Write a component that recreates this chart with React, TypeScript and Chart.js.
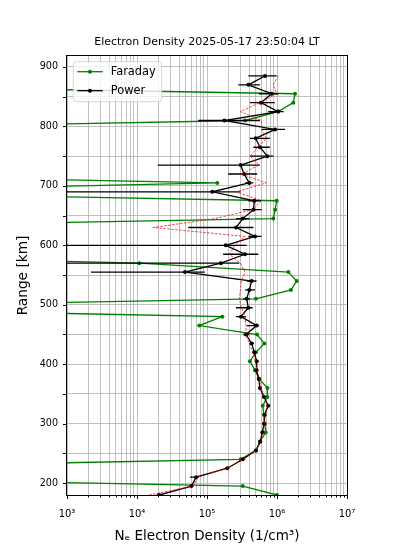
import React, { useEffect, useRef } from 'react';
import { Chart, registerables } from 'chart.js';

Chart.register(...registerables);

const titleText = 'Electron Density 2025-05-17 23:50:04 LT';
const xAxisTitle = 'Nₑ Electron Density (1/cm³)';
const yAxisTitle = 'Range [km]';

const rangeKm = [
  180, 195, 210, 225, 240, 255, 270, 285, 300, 315,
  330, 345, 360, 375, 390, 405, 420, 435, 450, 465,
  480, 495, 510, 525, 540, 555, 570, 585, 600, 615,
  630, 645, 660, 675, 690, 705, 720, 735, 750, 765,
  780, 795, 810, 825, 840, 855, 870, 885,
];

const faradayDensity = [
  1.0e6, 3.24e5, 0.1, 0.1, 3.03e5, 5.0e5, 5.7e5, 6.9e5, 6.7e5, 6.5e5,
  6.25e5, 7.27e5, 7.3e5, 5.6e5, 4.85e5, 4.1e5, 5.0e5, 6.6e5, 5.18e5, 7.76e4,
  1.65e5, 0.1, 5.0e5, 1.58e6, 1.91e6, 1.45e6, 1.08e4, 0.1, 0.1, 0.1,
  0.1, 8.85e5, 9.4e5, 9.9e5, 0.1, 1.4e5, 0.1, 0.1, 0.1, 0.1,
  0.1, 0.1, 3.49e5, 1.04e6, 1.71e6, 1.81e6, 0.1, 0.1,
];

const powerDensity = [
  2.08e4, 6.0e4, 7.0e4, 1.95e5, 3.24e5, 5.0e5, 5.77e5, 6.17e5, 6.52e5, 6.67e5,
  7.5e5, 6.52e5, 5.71e5, 5.48e5, 5.1e5, 5.13e5, 4.74e5, 4.35e5, 3.61e5, 5.13e5,
  3.06e5, 3.89e5, 3.69e5, 4.02e5, 4.35e5, 4.85e4, 1.58e5, 3.49e5, 1.85e5, 4.85e5,
  2.6e5, 3.24e5, 4.6e5, 4.74e5, 1.19e5, 4.02e5, 3.38e5, 3.03e5, 7.27e5, 5.71e5,
  4.96e5, 9.36e5, 1.77e5, 1.04e6, 5.9e5, 8.4e5, 3.89e5, 6.74e5,
];

const powerLow = [
  1.9e4, 5.6e4, 5.7e4, 1.85e5, 3.1e5, 4.8e5, 5.5e5, 5.9e5, 6.2e5, 6.35e5,
  7.15e5, 6.2e5, 5.4e5, 5.2e5, 4.85e5, 4.85e5, 4.45e5, 4.05e5, 3.3e5, 3.7e5,
  2.6e5, 2.6e5, 3.3e5, 3.5e5, 3.7e5, 2.2e3, 1e2, 1.7e5, 1e2, 3.9e5,
  5.4e4, 2.6e5, 3.24e5, 3.9e5, 1e2, 3.5e5, 2.0e5, 1.98e4, 4.1e5, 4.6e5,
  4.1e5, 6.04e5, 7.5e4, 7.5e5, 4.1e5, 5.5e5, 2.8e5, 3.9e5,
];

const powerHigh = [
  2.3e4, 6.4e4, 7.5e4, 2.05e5, 3.4e5, 5.2e5, 6.0e5, 6.45e5, 6.85e5, 7.0e5,
  7.85e5, 6.85e5, 6.0e5, 5.8e5, 5.4e5, 5.45e5, 5.05e5, 4.7e5, 4.0e5, 5.5e5,
  3.6e5, 4.5e5, 4.1e5, 4.85e5, 5.1e5, 9.3e4, 2.9e5, 5.4e5, 3.69e5, 6.0e5,
  4.6e5, 4.0e5, 6.04e5, 5.9e5, 3.0e5, 4.6e5, 5.2e5, 5.7e5, 8.9e5, 7.9e5,
  7.9e5, 1.3e6, 5.71e5, 1.25e6, 9.3e5, 1.05e6, 5.7e5, 9.9e5,
];

const modelDensity = [
  1.5e4, 6.3e4, 7.5e4, 1.9e5, 3.3e5, 5.0e5, 5.9e5, 6.3e5, 6.6e5, 6.8e5,
  7.2e5, 6.7e5, 5.9e5, 5.6e5, 5.2e5, 4.9e5, 4.5e5, 4.0e5, 3.6e5, 3.6e5,
  3.5e5, 3.1e5, 2.9e5, 3.0e5, 3.1e5, 3.5e5, 3.0e5, 2.1e5, 2.5e5, 3.5e5,
  1.7e4, 1.3e5, 4.5e5, 6.0e5, 2.6e5, 7.0e5, 3.1e5, 5.5e5, 4.1e5, 5.3e5,
  7.1e5, 6.0e5, 6.0e5, 3.0e5, 5.7e5, 9.9e5, 8.8e5, 1.04e6,
];

const xTickValues = [
  1e3, 2e3, 3e3, 4e3, 5e3, 6e3, 7e3, 8e3, 9e3,
  1e4, 2e4, 3e4, 4e4, 5e4, 6e4, 7e4, 8e4, 9e4,
  1e5, 2e5, 3e5, 4e5, 5e5, 6e5, 7e5, 8e5, 9e5,
  1e6, 2e6, 3e6, 4e6, 5e6, 6e6, 7e6, 8e6, 9e6,
  1e7,
];
const xMajorLabels: Record<string, string> = {
  '1000': '10³', '10000': '10⁴', '100000': '10⁵', '1000000': '10⁶', '10000000': '10⁷',
};
const yTickValues = [200, 250, 300, 350, 400, 450, 500, 550, 600, 650, 700, 750, 800, 850, 900];

const legendItems = [
  { label: 'Faraday', color: '#008000' },
  { label: 'Power', color: '#000000' },
];

const FONT = "'DejaVu Sans', sans-serif";

export default function App() {
  const canvasRef = useRef<HTMLCanvasElement | null>(null);

  useEffect(() => {
    const canvas = canvasRef.current;
    if (!canvas) return;
    const pts = (vals: number[]) => vals.map((v, i) => ({ x: v, y: rangeKm[i] }));

    const errorBars = {
      id: 'errorBars',
      beforeDatasetDraw(chart: any, args: any) {
        if (args.index !== 1) return;
        const { ctx, chartArea: a, scales } = chart;
        ctx.save();
        ctx.beginPath();
        ctx.rect(a.left, a.top, a.right - a.left, a.bottom - a.top);
        ctx.clip();
        ctx.strokeStyle = '#000';
        ctx.lineWidth = 1.3;
        ctx.beginPath();
        rangeKm.forEach((km, i) => {
          const y = scales.y.getPixelForValue(km);
          ctx.moveTo(scales.x.getPixelForValue(powerLow[i]), y);
          ctx.lineTo(scales.x.getPixelForValue(powerHigh[i]), y);
        });
        ctx.stroke();
        ctx.restore();
      },
    };

    const frame = {
      id: 'frame',
      afterDatasetsDraw(chart: any) {
        const { ctx, chartArea: a, scales } = chart;
        ctx.save();
        ctx.strokeStyle = '#000';
        ctx.lineWidth = 1;
        ctx.strokeRect(a.left - 0.5, a.top - 0.5, a.right - a.left + 1, a.bottom - a.top + 1);
        ctx.beginPath();
        xTickValues.forEach((v) => {
          const x = Math.round(scales.x.getPixelForValue(v)) + 0.5;
          const major = xMajorLabels[String(v)] !== undefined;
          ctx.moveTo(x, a.bottom);
          ctx.lineTo(x, a.bottom + (major ? 4 : 2.5));
        });
        yTickValues.forEach((v) => {
          const y = Math.round(scales.y.getPixelForValue(v)) + 0.5;
          ctx.moveTo(a.left, y);
          ctx.lineTo(a.left - 4, y);
        });
        ctx.stroke();
        ctx.restore();
      },
    };

    const insideLegend = {
      id: 'insideLegend',
      afterDraw(chart: any) {
        const { ctx, chartArea: a } = chart;
        const x0 = a.left + 6.3;
        const y0 = a.top + 5.7;
        const w = 88.4;
        const h = 40;
        const r = 3;
        ctx.save();
        ctx.beginPath();
        ctx.moveTo(x0 + r, y0);
        ctx.arcTo(x0 + w, y0, x0 + w, y0 + h, r);
        ctx.arcTo(x0 + w, y0 + h, x0, y0 + h, r);
        ctx.arcTo(x0, y0 + h, x0, y0, r);
        ctx.arcTo(x0, y0, x0 + w, y0, r);
        ctx.closePath();
        ctx.fillStyle = 'rgba(255,255,255,0.8)';
        ctx.fill();
        ctx.strokeStyle = 'rgba(204,204,204,0.8)';
        ctx.lineWidth = 1;
        ctx.stroke();
        legendItems.forEach((item, i) => {
          const y = y0 + 10 + i * 19;
          ctx.strokeStyle = item.color;
          ctx.lineWidth = 1.3;
          ctx.beginPath();
          ctx.moveTo(x0 + 4, y);
          ctx.lineTo(x0 + 29.4, y);
          ctx.stroke();
          ctx.fillStyle = item.color;
          ctx.beginPath();
          ctx.arc(x0 + 16.7, y, 2, 0, Math.PI * 2);
          ctx.fill();
          ctx.fillStyle = '#000';
          ctx.font = `11.4px ${FONT}`;
          ctx.textBaseline = 'middle';
          ctx.textAlign = 'left';
          ctx.fillText(item.label, x0 + 37.4, y);
        });
        ctx.restore();
      },
    };

    const chart = new Chart(canvas, {
      type: 'scatter',
      data: {
        datasets: [
          {
            label: 'Faraday',
            data: pts(faradayDensity),
            showLine: true,
            borderColor: '#008000',
            backgroundColor: '#008000',
            borderWidth: 1.3,
            pointRadius: 2,
            pointBorderWidth: 0,
            order: 3,
          },
          {
            label: 'Power',
            data: pts(powerDensity),
            showLine: true,
            borderColor: '#000000',
            backgroundColor: '#000000',
            borderWidth: 1.3,
            pointRadius: 2,
            pointBorderWidth: 0,
            order: 2,
          },
          {
            label: 'Model',
            data: pts(modelDensity),
            showLine: true,
            borderColor: 'rgba(255,0,0,0.95)',
            borderWidth: 0.8,
            borderDash: [2.5, 1.5],
            pointRadius: 0,
            order: 1,
          },
        ],
      },
      options: {
        animation: false,
        responsive: false,
        devicePixelRatio: 1,
        layout: { padding: { left: 0, right: 47, top: 0, bottom: 0 } },
        plugins: {
          legend: { display: false },
          tooltip: { enabled: false },
          title: {
            display: true,
            text: titleText,
            fullSize: false,
            color: '#000',
            font: { family: FONT, size: 11, weight: 'normal' },
            padding: { top: 36, bottom: 6.8 },
          },
        },
        scales: {
          x: {
            type: 'logarithmic',
            position: 'bottom',
            min: 1e3,
            max: 1e7,
            afterFit: (s: any) => { s.height = 55; },
            afterBuildTicks: (s: any) => { s.ticks = xTickValues.map((v) => ({ value: v })); },
            ticks: {
              autoSkip: false,
              maxRotation: 0,
              padding: 13,
              color: '#000',
              font: { family: FONT, size: 10 },
              callback: (v: any) => xMajorLabels[String(v)] ?? '',
            },
            grid: { color: '#b0b0b0', lineWidth: 0.8, drawTicks: false },
            border: { display: false },
            title: {
              display: true,
              text: xAxisTitle,
              color: '#000',
              font: { family: FONT, size: 13.5 },
              padding: { top: 0, bottom: 5 },
            },
          },
          y: {
            type: 'linear',
            position: 'left',
            min: 180,
            max: 918.5,
            afterFit: (s: any) => { s.width = 67; },
            afterBuildTicks: (s: any) => { s.ticks = yTickValues.map((v) => ({ value: v })); },
            ticks: {
              autoSkip: false,
              padding: 9,
              color: '#000',
              font: { family: FONT, size: 9.6 },
              callback: (v: any) => (Number(v) % 100 === 0 ? String(v) : ''),
            },
            grid: { color: '#b0b0b0', lineWidth: 0.8, drawTicks: false },
            border: { display: false },
            title: {
              display: true,
              text: yAxisTitle,
              color: '#000',
              font: { family: FONT, size: 13.7 },
              padding: { top: 15, bottom: 0 },
            },
          },
        },
      } as any,
      plugins: [errorBars, frame, insideLegend],
    });

    return () => chart.destroy();
  }, []);

  return (
    <div style={{ position: 'absolute', left: 0, top: 0, width: 394, height: 550, background: '#fff' }}>
      <canvas ref={canvasRef} width={394} height={550} style={{ display: 'block', width: 394, height: 550 }} />
    </div>
  );
}
